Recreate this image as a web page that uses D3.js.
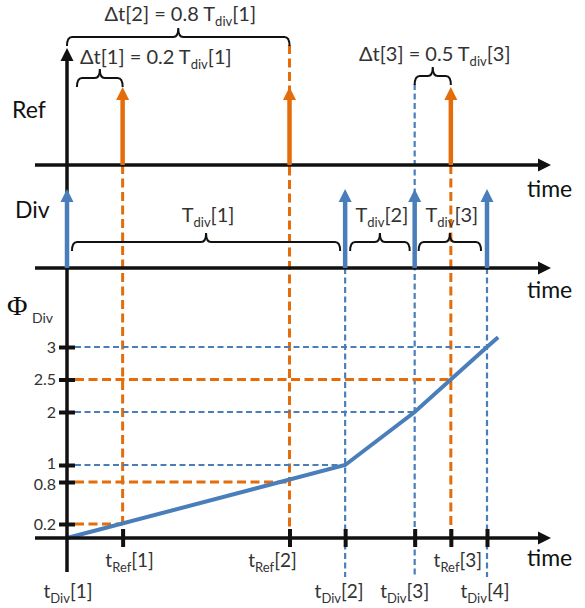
<!DOCTYPE html>
<html>
<head>
<meta charset="utf-8">
<script src="https://cdn.jsdelivr.net/npm/d3@7"></script>
<style>
  body { margin: 0; background: #fff; }
  svg { display: block; font-family: Lato, 'Open Sans', sans-serif; }
</style>
</head>
<body>
<svg></svg>
<script>
'use strict'

const WIDTH = 585;
const HEIGHT = 608;

// event times, in units of T_div[1]
const tDiv = [0, 1, 1.25, 1.51];
const tRef = [0.2, 0.8, 1.38];
const tDivLabels = ['t_Div[1]', 't_Div[2]', 't_Div[3]', 't_Div[4]'];
const tRefLabels = ['t_Ref[1]', 't_Ref[2]', 't_Ref[3]'];

// phase axis ticks and the time where each dashed guide stops
const phiTicks = [0.2, 0.8, 1, 2, 2.5, 3];
const phiGuideTime = [0.2, 0.8, 1, 1.25, 1.38, 1.51];
const phiGuideSource = ['ref', 'ref', 'div', 'div', 'ref', 'div'];

// divider phase ramp
const phiTime = [0, 1, 1.25, 1.51, 1.55];
const phiValue = [0, 1, 2, 3, 3.15];

// braces
const braceText = ['Δt[1] = 0.2 T_div[1]', 'Δt[2] = 0.8 T_div[1]', 'Δt[3] = 0.5 T_div[3]',
                   'T_div[1]', 'T_div[2]', 'T_div[3]'];
const braceStart = [0, 0, 1.25, 0, 1, 1.25];
const braceEnd = [0.2, 0.8, 1.38, 1, 1.25, 1.51];

const ORANGE = '#e46c0a';
const BLUE = '#4a7ebb';
const INK = '#111';
const GREY = '#333';

// layout
const AXIS_X0 = 35, AXIS_X1 = 551;
const REF_Y = 165, DIV_Y = 268;
const REF_TIP = 87, DIV_TIP = 189;
const braceLayout = [
  { y: 78, inset: [10, 0], textY: 64, anchor: 'start' },
  { y: 37, inset: [0, 0], textY: 21, anchor: 'middle' },
  { y: 76, inset: [0, 0], textY: 61, anchor: 'middle' },
  { y: 242, inset: [5, 5], textY: 222, anchor: 'middle' },
  { y: 242, inset: [5, 5], textY: 222, anchor: 'middle' },
  { y: 242, inset: [4, 6], textY: 222, anchor: 'middle' }
];
const tRefLabelDx = [7, -17, 7];
const tDivLabelDx = [1, -6, -10, -2];
const phiLabelDy = { 1: -2, 0.8: 2 };
const refGuideTop = [REF_Y, 45, REF_Y];
const divGuideTop = [null, DIV_Y, 84, DIV_Y];

const svg = d3.select('svg')
  .attr('width', WIDTH)
  .attr('height', HEIGHT);

let xScale = d3.scaleLinear()
  .domain([0, tDiv[3]])
  .range([67, 487]);

// the phase axis of the sketch is not uniform
let yScale = d3.scaleLinear()
  .domain([0, 0.8, 1, 2, 3])
  .range([538, 482, 465, 412, 347]);

const T0 = yScale(0);

function richText(sel, str, subSize, drop) {
  const parts = str.split(/_([A-Za-z]+)/);
  let lowered = false;
  parts.forEach((p, i) => {
    if (!p) return;
    const sub = i % 2 === 1;
    const t = sel.append('tspan').text(p);
    if (sub) {
      t.attr('font-size', subSize).attr('dy', drop);
      lowered = true;
    } else if (lowered) {
      t.attr('dy', -drop);
      lowered = false;
    }
  });
}

function arrowUp(g, x, yBase, yTip, color, head) {
  g.append('line')
    .attr('x1', x).attr('x2', x)
    .attr('y1', yBase).attr('y2', yTip + head - 1)
    .attr('stroke', color).attr('stroke-width', 4.5);
  g.append('path')
    .attr('d', `M${x - 6.5},${yTip + head}L${x},${yTip}L${x + 6.5},${yTip + head}Z`)
    .attr('fill', color);
}

function arrowRight(g, y) {
  g.append('line')
    .attr('x1', AXIS_X0).attr('x2', AXIS_X1 - 12)
    .attr('y1', y).attr('y2', y)
    .attr('stroke', INK).attr('stroke-width', 3.5);
  g.append('path')
    .attr('d', `M${AXIS_X1 - 13},${y - 6.5}L${AXIS_X1},${y}L${AXIS_X1 - 13},${y + 6.5}Z`)
    .attr('fill', INK);
}

// dashed guides
const guides = svg.append('g');
tRef.forEach((t, i) => {
  guides.append('line')
    .attr('x1', xScale(t)).attr('x2', xScale(t))
    .attr('y1', refGuideTop[i]).attr('y2', T0)
    .attr('stroke', ORANGE).attr('stroke-width', 3)
    .attr('stroke-dasharray', '9,4.5');
});
tDiv.forEach((t, i) => {
  if (divGuideTop[i] == null) return;
  guides.append('line')
    .attr('x1', xScale(t)).attr('x2', xScale(t))
    .attr('y1', divGuideTop[i]).attr('y2', 577)
    .attr('stroke', BLUE).attr('stroke-width', 2.2)
    .attr('stroke-dasharray', '6,3.5');
});
phiTicks.forEach((v, i) => {
  const isRef = phiGuideSource[i] === 'ref';
  guides.append('line')
    .attr('x1', 75).attr('x2', xScale(phiGuideTime[i]))
    .attr('y1', yScale(v)).attr('y2', yScale(v))
    .attr('stroke', isRef ? ORANGE : BLUE)
    .attr('stroke-width', isRef ? 3 : 2.2)
    .attr('stroke-dasharray', isRef ? '9,4.5' : '6,3.5');
});

// phase ramp
const line = d3.line()
  .x((d, i) => xScale(phiTime[i]))
  .y(d => yScale(d));
svg.append('path')
  .datum(phiValue)
  .attr('d', line)
  .attr('fill', 'none')
  .attr('stroke', BLUE)
  .attr('stroke-width', 4);

// axes
const axes = svg.append('g');
axes.append('line')
  .attr('x1', xScale(0)).attr('x2', xScale(0))
  .attr('y1', 572).attr('y2', 48 + 12)
  .attr('stroke', INK).attr('stroke-width', 3.5);
axes.append('path')
  .attr('d', `M${xScale(0) - 6.5},${48 + 13}L${xScale(0)},48L${xScale(0) + 6.5},${48 + 13}Z`)
  .attr('fill', INK);
arrowRight(axes, REF_Y);
arrowRight(axes, DIV_Y);
arrowRight(axes, T0);

let leftAxis = d3.axisLeft(yScale)
  .tickValues(phiTicks)
  .tickFormat(d => String(d));
axes.append('g')
  .attr('transform', `translate(${xScale(0)},0)`)
  .call(leftAxis)
  .call(g => g.select('.domain').remove())
  .call(g => g.selectAll('.tick line')
    .attr('x1', -8).attr('x2', 8)
    .attr('stroke', INK).attr('stroke-width', 4))
  .call(g => g.selectAll('.tick text')
    .attr('x', -11)
    .attr('y', d => phiLabelDy[d] || 0)
    .attr('font-family', 'Lato, sans-serif')
    .attr('font-size', 16)
    .attr('fill', GREY));

let bottomAxis = d3.axisBottom(xScale)
  .tickValues(tRef.concat(tDiv.slice(1)))
  .tickFormat('');
axes.append('g')
  .attr('transform', `translate(0,${T0})`)
  .call(bottomAxis)
  .call(g => g.select('.domain').remove())
  .call(g => g.selectAll('.tick line')
    .attr('y1', -9).attr('y2', 9)
    .attr('stroke', INK).attr('stroke-width', 4));

// pulses
const pulses = svg.append('g');
tRef.forEach(t => arrowUp(pulses, xScale(t), REF_Y, REF_TIP, ORANGE, 13));
tDiv.forEach(t => arrowUp(pulses, xScale(t), DIV_Y, DIV_TIP, BLUE, 13));

// braces
const braces = svg.append('g');
braceText.forEach((txt, i) => {
  const L = braceLayout[i];
  const x0 = xScale(braceStart[i]) + L.inset[0];
  const x1 = xScale(braceEnd[i]) - L.inset[1];
  const m = (x0 + x1) / 2;
  const yt = L.y, yb = L.y + 9, r = 5, n = 9;
  braces.append('path')
    .attr('d', `M${x0},${yb}Q${x0},${yt} ${x0 + r},${yt}L${m - r},${yt}` +
      `Q${m},${yt} ${m},${yt - n}Q${m},${yt} ${m + r},${yt}` +
      `L${x1 - r},${yt}Q${x1},${yt} ${x1},${yb}`)
    .attr('fill', 'none')
    .attr('stroke', INK)
    .attr('stroke-width', 2);
  const label = braces.append('text')
    .attr('x', L.anchor === 'start' ? x0 + 3 : m + 2)
    .attr('y', L.textY)
    .attr('text-anchor', L.anchor)
    .attr('font-size', 20)
    .attr('fill', GREY);
  richText(label, txt, 13, 5);
});

// time labels
tRef.forEach((t, i) => {
  const label = svg.append('text')
    .attr('x', xScale(t) + tRefLabelDx[i])
    .attr('y', 567)
    .attr('text-anchor', 'middle')
    .attr('font-size', 19)
    .attr('fill', GREY);
  richText(label, tRefLabels[i], 13, 5);
});
tDiv.forEach((t, i) => {
  const label = svg.append('text')
    .attr('x', xScale(t) + tDivLabelDx[i])
    .attr('y', 598)
    .attr('text-anchor', 'middle')
    .attr('font-size', 19)
    .attr('fill', GREY);
  richText(label, tDivLabels[i], 13, 5);
});

// row titles
[['Ref', 12, 118], ['Div', 15, 218]].forEach(([s, x, y]) => {
  svg.append('text').attr('x', x).attr('y', y)
    .attr('font-size', 23).attr('fill', INK).text(s);
});
[197, 298, 566].forEach(y => {
  svg.append('text').attr('x', 527).attr('y', y)
    .attr('font-size', 23).attr('fill', INK).text('time');
});
svg.append('text').attr('x', 7).attr('y', 315)
  .attr('font-family', "'Liberation Serif', serif")
  .attr('font-size', 28).attr('fill', INK).text('Φ');
svg.append('text').attr('x', 32).attr('y', 323)
  .attr('font-size', 14).attr('fill', GREY).text('Div');
</script>
</body>
</html>
